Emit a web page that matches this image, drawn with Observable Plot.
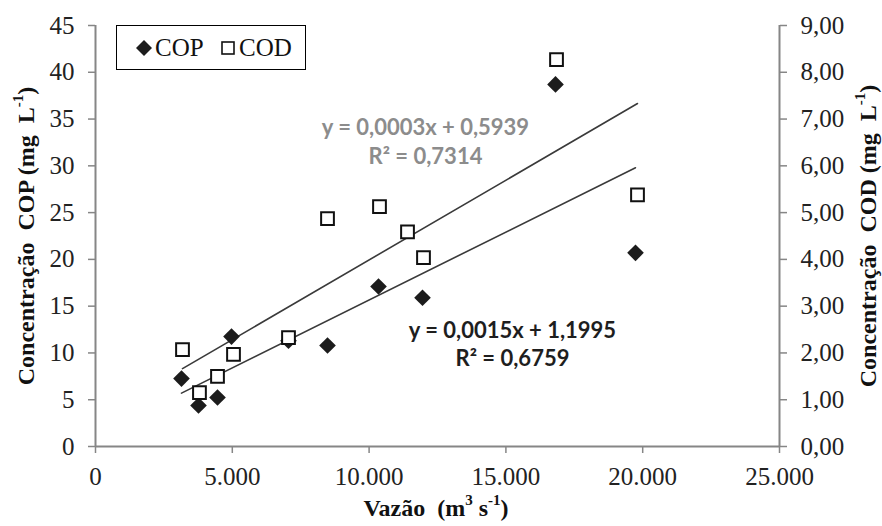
<!DOCTYPE html>
<html>
<head>
<meta charset="utf-8">
<script src="https://cdn.jsdelivr.net/npm/d3@7"></script>
<script src="https://cdn.jsdelivr.net/npm/@observablehq/plot@0.6"></script>
<style>
  body { margin: 0; background: #fff; }
  #wrap { position: relative; width: 882px; height: 526px; }
  #legend { position: absolute; left: 116px; top: 25px; width: 188px; height: 43px;
    border: 1.5px solid #000; background: #fff; font-family: "Liberation Serif", serif; font-size: 25px; color: #111; }
  #legend .item { position: absolute; top: 0; height: 43px; display: flex; align-items: center; }
  #legend svg { display: block; margin-right: 1px; }
</style>
</head>
<body>
<div id="wrap"></div>
<script>
// ---- data ----
const copVazao = [3143, 3765, 4459, 4971, 7054, 8480, 10344, 11952, 16813, 19737];
const copConc  = [7.26, 4.38, 5.24, 11.75, 11.3, 10.8, 17.1, 15.9, 38.7, 20.7];
const codVazao = [3180, 3800, 4459, 5044, 7054, 8480, 10380, 11404, 11988, 16850, 19810];
const codConc  = [2.07, 1.15, 1.50, 1.97, 2.33, 4.87, 5.13, 4.59, 4.04, 8.27, 5.38];
const xTicks = [0, 5000, 10000, 15000, 20000, 25000];
const yTicksLeft = [0, 5, 10, 15, 20, 25, 30, 35, 40, 45];
const eqLabels = ["y = 0,0003x + 0,5939", "R² = 0,7314", "y = 0,0015x + 1,1995", "R² = 0,6759"];
const eqSeries = ["COD", "COD", "COP", "COP"];
const eqX = [12060, 12060, 15240, 15240];
const eqY = [34.1, 30.9, 12.4, 9.4];

// ---- build ----
const ratio = 45 / 9; // left scale units per right scale unit
const fmtX = d3.formatLocale({decimal: ",", thousands: ".", grouping: [3], currency: ["", ""]}).format(",");
const cop = copVazao.map((x, i) => ({x, y: copConc[i]}));
const cod = codVazao.map((x, i) => ({x, y: codConc[i]}));
const eqs = eqLabels.map((t, i) => ({t, s: eqSeries[i], x: eqX[i], y: eqY[i]}));
const axisGrey = "#868686";
const tickFont = {fontSize: 25, fill: "#222"};

const chart = Plot.plot({
  width: 882, height: 526,
  marginLeft: 95, marginRight: 103, marginTop: 25, marginBottom: 80,
  style: {fontFamily: "'Liberation Serif', serif", background: "#fff", overflow: "visible"},
  x: {domain: [0, 25000]},
  y: {domain: [0, 45]},
  marks: [
    Plot.axisY(yTicksLeft, {anchor: "left", tickSize: 7, tickPadding: 14, label: null, stroke: axisGrey, strokeWidth: 1.5, ...tickFont}),
    Plot.axisY(yTicksLeft, {anchor: "right", tickSize: 7, tickPadding: 14, label: null, stroke: axisGrey, strokeWidth: 1.5,
      tickFormat: d => (d / ratio).toFixed(2).replace(".", ","), ...tickFont}),
    Plot.axisX(xTicks, {anchor: "bottom", tickSize: 7, tickPadding: 14, label: null, stroke: axisGrey, strokeWidth: 1.5,
      tickFormat: fmtX, ...tickFont}),
    Plot.ruleX([0, 25000], {stroke: axisGrey, strokeWidth: 2}),
    Plot.ruleY([0], {stroke: axisGrey, strokeWidth: 2}),
    Plot.linearRegressionY(cod, {x: "x", y: d => d.y * ratio, stroke: "#3a3a3a", strokeWidth: 1.6, ci: 0}),
    Plot.linearRegressionY(cop, {x: "x", y: "y", stroke: "#3a3a3a", strokeWidth: 1.6, ci: 0}),
    Plot.dot(cop, {x: "x", y: "y", symbol: "diamond2", r: 7.5, fill: "#1c1c1c", stroke: "none", ariaLabel: "cop-dots"}),
    Plot.dot(cod, {x: "x", y: d => d.y * ratio, symbol: "square", r: 7.2, fill: "#fff", stroke: "#111", strokeWidth: 2, ariaLabel: "cod-dots"}),
    Plot.text(eqs, {x: "x", y: "y", text: "t", fill: d => d.s === "COD" ? "#8c8c8c" : "#1e1e1e",
      fontFamily: "Lato, 'Open Sans', sans-serif", fontWeight: "bold", fontSize: 22, textAnchor: "middle", lineAnchor: "middle",
      ariaLabel: "equations"})
  ]
});

const svg = d3.select(chart);
svg.select('g[aria-label="cod-dots"]').style("filter", "drop-shadow(3px 3px 2px rgba(0,0,0,0.45))");
svg.select('g[aria-label="cop-dots"]').style("filter", "drop-shadow(2px 2px 2px rgba(0,0,0,0.3))");
svg.select('g[aria-label="equations"]').style("letter-spacing", "0.5px");

function title(x, y, rot, parts) {
  const t = svg.append("text")
    .attr("transform", `translate(${x},${y}) rotate(${rot})`)
    .attr("text-anchor", "middle")
    .attr("dominant-baseline", "central")
    .style("white-space", "pre")
    .attr("font-family", "'Liberation Serif', serif")
    .attr("font-weight", "bold")
    .attr("font-size", 24)
    .attr("fill", "#111");
  parts.forEach(([s, sup]) => {
    const ts = t.append("tspan").text(s);
    if (sup) ts.attr("baseline-shift", "super").attr("font-size", 15);
  });
}
title(26, 236, -90, [["Concentração  COP (mg  L"], ["-1", true], [")"]]);
title(868, 236, -90, [["Concentração  COD (mg  L"], ["-1", true], [")"]]);
title(436, 508, 0, [["Vazão  (m"], ["3", true], [" s"], ["-1", true], [")"]]);

const wrap = document.getElementById("wrap");
wrap.appendChild(chart);

// legend
const legend = document.createElement("div");
legend.id = "legend";
legend.innerHTML = `
  <div class="item" style="left:17px"><svg width="20" height="20" viewBox="-10 -10 20 20"><path d="M0,-8L8,0L0,8L-8,0Z" fill="#1c1c1c"/></svg><span>COP</span></div>
  <div class="item" style="left:101px"><svg width="20" height="20" viewBox="-10 -10 20 20"><rect x="-6" y="-6" width="12" height="12" fill="#fff" stroke="#111" stroke-width="1.6"/></svg><span>COD</span></div>`;
wrap.appendChild(legend);
</script>
</body>
</html>
